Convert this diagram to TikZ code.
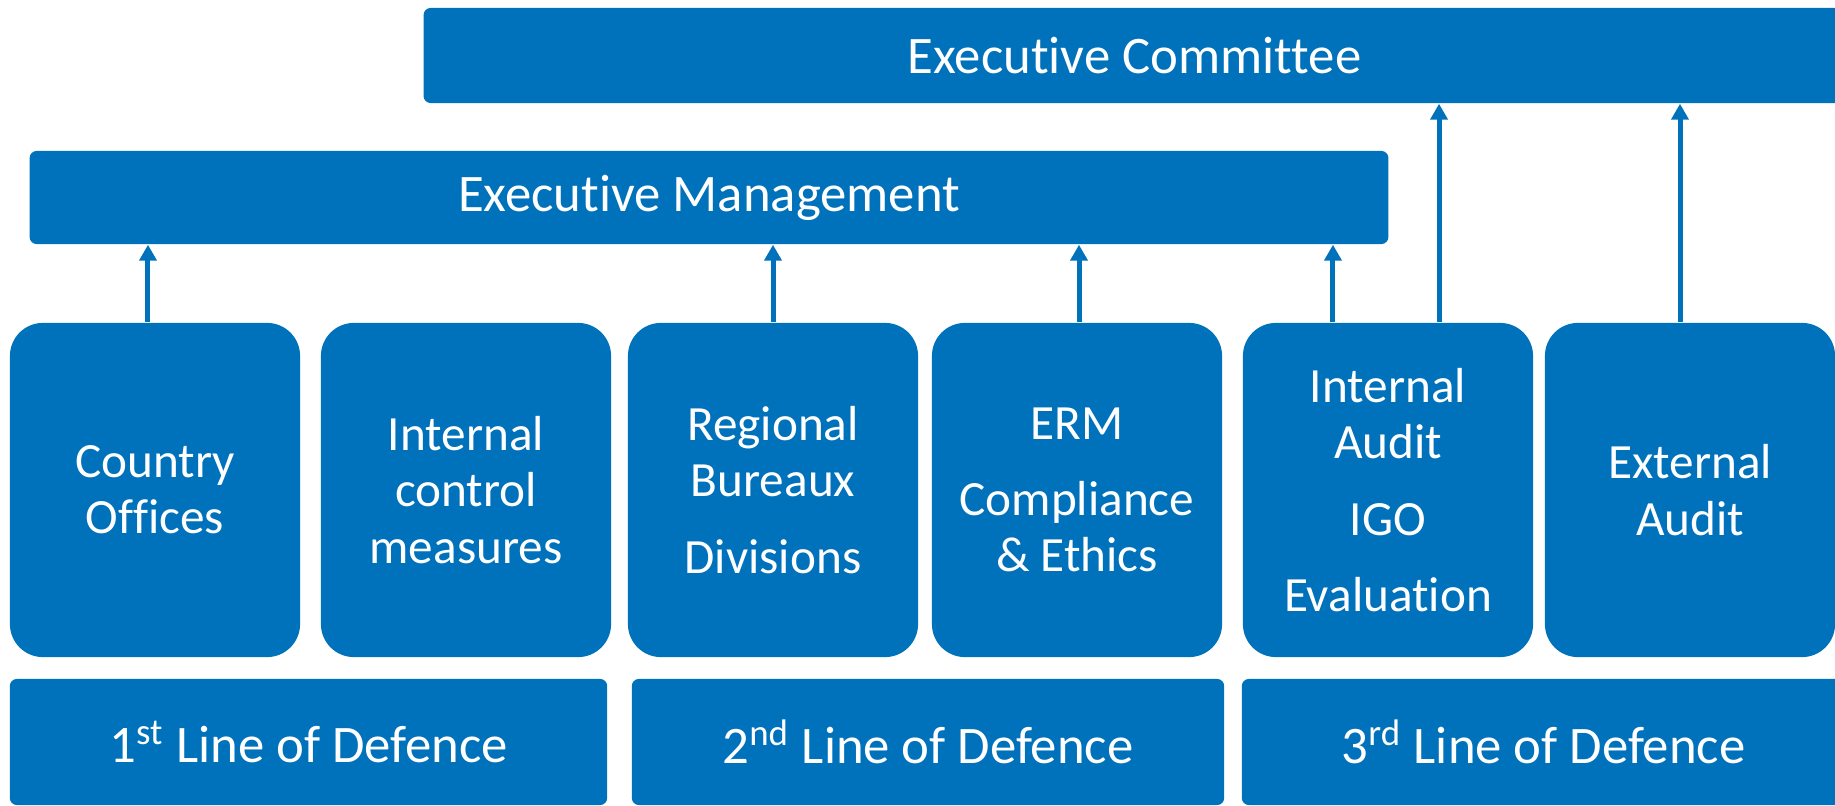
\documentclass[tikz,border=0pt]{standalone}
\usepackage{fontspec}
\setmainfont{Carlito}[Ligatures={NoCommon}]
\usetikzlibrary{arrows.meta}
\definecolor{lodblue}{RGB}{0,113,187}
\begin{document}
\begin{tikzpicture}[x=0.01cm,y=-0.01cm,
	bar/.style={fill=lodblue,text=white,rounded corners=0.07cm,inner sep=0pt,font=\fontsize{15}{18}\selectfont},
	unitbox/.style={fill=lodblue,text=white,rounded corners=0.33cm,inner sep=0pt,align=center,
		minimum width=2.9cm,minimum height=3.34cm,font=\fontsize{14}{16}\selectfont},
	up/.style={draw=lodblue,line width=0.05cm,-{Triangle[width=0.17cm,length=0.16cm]}}]
	\useasboundingbox (0,0) rectangle (1835,806);
	\clip (0,0) rectangle (1835,806);
	
	\node[bar,minimum width=14.21cm,minimum height=0.95cm] (ec) at (1134.5,55.5) {Executive Committee};
	\node[bar,minimum width=13.58cm,minimum height=0.93cm] (em) at (709,197.5) {Executive Management};
	
	\node[unitbox] (co) at (155,490) {Country\\Offices};
	\node[unitbox] (ic) at (466,490) {Internal\\control\\measures};
	\node[unitbox] (rb) at (773,490) {Regional\\Bureaux\\[0.2cm]Divisions};
	\node[unitbox] (erm) at (1077,490) {ERM\\[0.2cm]Compliance\\\& Ethics};
	\node[unitbox] (ia) at (1388,490) {Internal\\Audit\\[0.2cm]IGO\\[0.2cm]Evaluation};
	\node[unitbox] (ea) at (1690,490) {External\\Audit};
	
	\node[bar,minimum width=5.97cm,minimum height=1.26cm] (l1) at (308.5,742) {1\textsuperscript{st} Line of Defence};
	\node[bar,minimum width=5.92cm,minimum height=1.26cm] (l2) at (928,742) {2\textsuperscript{nd} Line of Defence};
	\node[bar,minimum width=6.03cm,minimum height=1.26cm] (l3) at (1543.5,742) {3\textsuperscript{rd} Line of Defence};
	
	\draw[up] ([xshift=-0.07cm]co.north) -- ([xshift=-0.07cm]co.north |- em.south);
	\draw[up] (rb.north) -- (rb.north |- em.south);
	\draw[up] ([xshift=0.02cm]erm.north) -- ([xshift=0.02cm]erm.north |- em.south);
	\draw[up] ([xshift=-0.55cm]ia.north) -- ([xshift=-0.55cm]ia.north |- em.south);
	\draw[up] ([xshift=0.51cm]ia.north) -- ([xshift=0.51cm]ia.north |- ec.south);
	\draw[up] ([xshift=-0.1cm]ea.north) -- ([xshift=-0.1cm]ea.north |- ec.south);
\end{tikzpicture}
\end{document}
